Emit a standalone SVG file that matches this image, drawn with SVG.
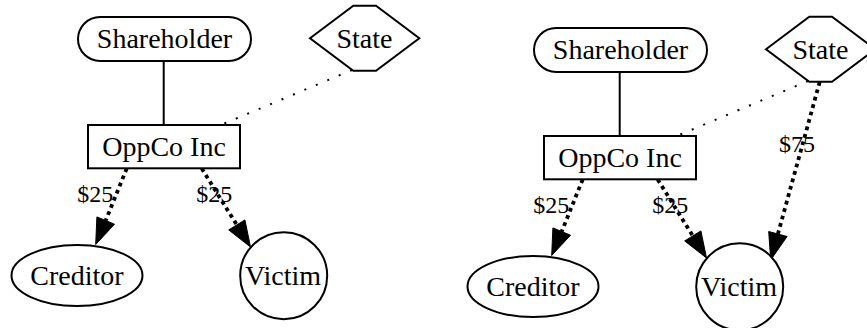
<svg xmlns="http://www.w3.org/2000/svg" width="867" height="328" viewBox="0 0 867 328">
  <style>
    .shape { fill: #ffffff; stroke: #000000; stroke-width: 2; }
    .label { font-family: "Liberation Serif", "Times New Roman", serif; font-size: 28px; fill: #000000; text-anchor: middle; }
    .amount { font-family: "Liberation Serif", "Times New Roman", serif; font-size: 24px; fill: #000000; text-anchor: middle; }
    .owns { stroke: #000000; stroke-width: 2; fill: none; }
    .regulates { stroke: #000000; stroke-width: 2; fill: none; stroke-dasharray: 2 10.4; }
    .payment { stroke: #000000; stroke-width: 3.8; fill: none; stroke-dasharray: 3.8 3.9; }
    .head { fill: #000000; stroke: #000000; stroke-width: 1; stroke-linejoin: miter; }
  </style>

  <!-- Scenario A: company pays creditor and victim -->
  <g id="scenario-a">
    <g id="a-connectors">
      <line class="owns" x1="163.7" y1="61" x2="163.7" y2="125"/>
      <line class="regulates" x1="352" y1="70" x2="221.5" y2="124.7"/>
      <line class="payment" x1="126.7" y1="168.5" x2="105.7" y2="220.5"/>
      <polygon class="head" points="95.7,244.5 114.5,224.2 96.9,216.9"/>
      <text class="amount" x="95.3" y="201.5">$25</text>
      <line class="payment" x1="201.7" y1="168.5" x2="236.8" y2="224.9"/>
      <polygon class="head" points="250.5,247 244.9,219.9 228.7,229.9"/>
      <text class="amount" x="214.2" y="201.5">$25</text>
    </g>
    <g id="a-shareholder">
      <rect class="shape" x="78" y="17" width="173" height="44" rx="22" ry="22"/>
      <text class="label" x="164.5" y="48">Shareholder</text>
    </g>
    <g id="a-state">
      <polygon class="shape" points="310,38.3 353.3,5.7 376,5.7 419.3,38.3 376,70.7 353.3,70.7"/>
      <text class="label" x="364.5" y="47.5">State</text>
    </g>
    <g id="a-oppco">
      <rect class="shape" x="88" y="125" width="152" height="43.3"/>
      <text class="label" x="164" y="156">OppCo Inc</text>
    </g>
    <g id="a-creditor">
      <ellipse class="shape" cx="77" cy="275.5" rx="65.5" ry="30.5"/>
      <text class="label" x="77" y="285">Creditor</text>
    </g>
    <g id="a-victim">
      <circle class="shape" cx="283.7" cy="275.7" r="43.5"/>
      <text class="label" x="283" y="285">Victim</text>
    </g>
  </g>

  <!-- Scenario B: the state also pays the victim -->
  <g id="scenario-b" transform="translate(456,11)">
    <g id="b-connectors">
      <line class="owns" x1="163.7" y1="61" x2="163.7" y2="125"/>
      <line class="regulates" x1="352" y1="70" x2="221.5" y2="124.7"/>
      <line class="payment" x1="126.7" y1="168.5" x2="105.7" y2="220.5"/>
      <polygon class="head" points="95.7,244.5 114.5,224.2 96.9,216.9"/>
      <text class="amount" x="95.3" y="201.5">$25</text>
      <line class="payment" x1="201.7" y1="168.5" x2="236.8" y2="224.9"/>
      <polygon class="head" points="250.5,247 244.9,219.9 228.7,229.9"/>
      <text class="amount" x="214.2" y="201.5">$25</text>
      <line class="payment" x1="363.7" y1="71" x2="321.9" y2="223"/>
      <polygon class="head" points="314.7,249 331.1,225.5 312.7,220.5"/>
      <text class="amount" x="341" y="140.5">$75</text>
    </g>
    <g id="b-shareholder">
      <rect class="shape" x="78" y="17" width="173" height="44" rx="22" ry="22"/>
      <text class="label" x="164.5" y="48">Shareholder</text>
    </g>
    <g id="b-state">
      <polygon class="shape" points="310,38.3 353.3,5.7 376,5.7 419.3,38.3 376,70.7 353.3,70.7"/>
      <text class="label" x="364.5" y="47.5">State</text>
    </g>
    <g id="b-oppco">
      <rect class="shape" x="88" y="125" width="152" height="43.3"/>
      <text class="label" x="164" y="156">OppCo Inc</text>
    </g>
    <g id="b-creditor">
      <ellipse class="shape" cx="77" cy="275.5" rx="65.5" ry="30.5"/>
      <text class="label" x="77" y="285">Creditor</text>
    </g>
    <g id="b-victim">
      <circle class="shape" cx="283.7" cy="275.7" r="43.5"/>
      <text class="label" x="283" y="285">Victim</text>
    </g>
  </g>
</svg>
